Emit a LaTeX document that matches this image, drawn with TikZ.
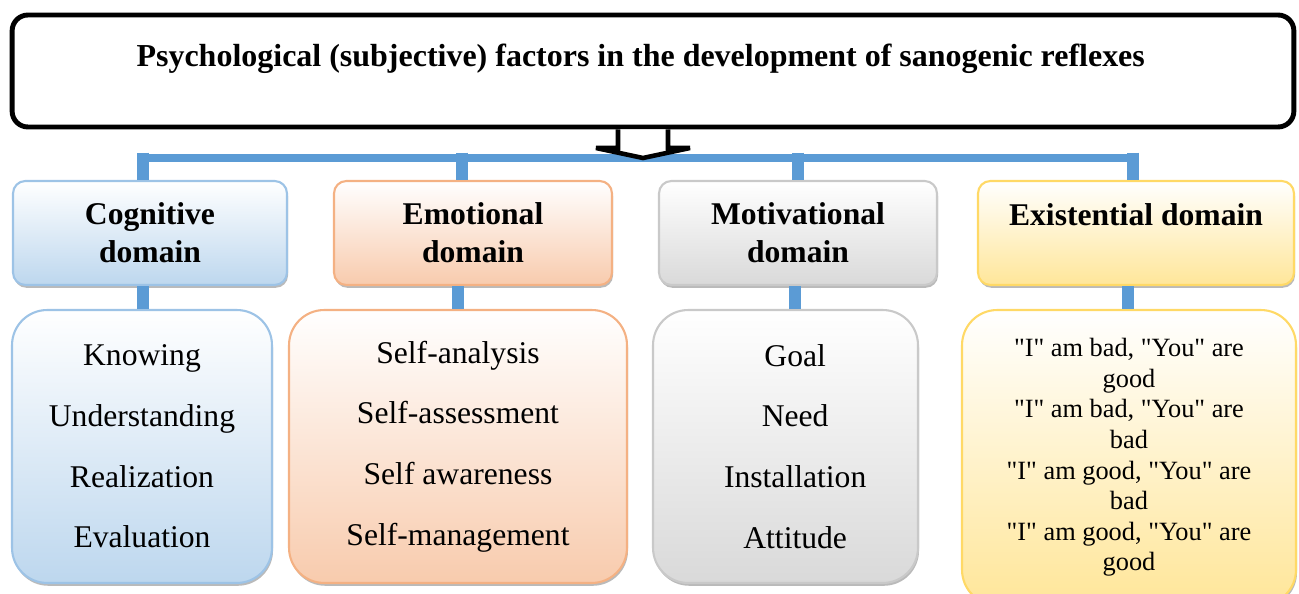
\documentclass[tikz,border=0pt]{standalone}
\usepackage{fontspec}
\setmainfont{Liberation Serif}
\usetikzlibrary{shadows}
\definecolor{busblue}{HTML}{5B9BD5}
\definecolor{cogline}{HTML}{9DC3E6}
\definecolor{cogfill}{HTML}{BDD7EE}
\definecolor{emoline}{HTML}{F4B183}
\definecolor{emofill}{HTML}{F8CBAD}
\definecolor{motline}{HTML}{C9C9C9}
\definecolor{motfill}{HTML}{D9D9D9}
\definecolor{exiline}{HTML}{FFD966}
\definecolor{exifill}{HTML}{FFE699}
\newcommand{\q}{\textquotedbl}

\tikzset{
  domainbox/.style={draw=#1line, line width=1.2pt, rounded corners=7pt,
    top color=white, bottom color=#1fill, align=center, inner sep=0pt,
    minimum height=2.08cm, font=\bfseries\fontsize{18}{21.5}\selectfont,
    drop shadow={shadow xshift=0.6pt, shadow yshift=-1.6pt, fill=black!45, opacity=.6}},
  listbox/.style={draw=#1line, line width=1.2pt, rounded corners=20pt,
    top color=white, bottom color=#1fill, align=center, inner sep=0pt,
    minimum height=5.46cm, font=\fontsize{18}{34.6}\selectfont,
    drop shadow={shadow xshift=0.6pt, shadow yshift=-1.6pt, fill=black!45, opacity=.6}},
  stub/.style={busblue, line width=6.5pt},
  bus/.style={busblue, line width=4.3pt}
}

\begin{document}
\begin{tikzpicture}[x=0.02cm, y=-0.02cm]
        \useasboundingbox (0,0) rectangle (1299,594);
        % Title
        \node[draw, line width=2.8pt, rounded corners=9pt, minimum width=25.64cm, minimum height=2.24cm,
              align=center, font=\bfseries\fontsize{18.2}{18}\selectfont] (T) at (653,71)
              {\hspace*{-14pt}Psychological (subjective) factors in the development of sanogenic reflexes\\ \mbox{}};
        % Bus
        \coordinate (B1) at (143,158);
        \coordinate (B2) at (462,158);
        \coordinate (B3) at (798,158);
        \coordinate (B4) at (1133,158);
        \draw[bus] ([xshift=-3.25pt]B1) -- ([xshift=3.25pt]B4);
        % Arrow from title
        \draw[line width=2.6pt, fill=white, line join=miter, miter limit=1.5]
              (T.south -| 618,0) -- (618,148) -- (596,148) -- (643,158) -- (690,148) -- (668,148) -- (T.south -| 668,0);
        % Domains
        \node[domainbox=cog, minimum width=5.48cm] (C) at (150,233) {Cognitive\\domain};
        \node[domainbox=emo, minimum width=5.56cm] (E) at (473,233) {Emotional\\domain};
        \node[domainbox=mot, minimum width=5.56cm] (M) at (798,233) {Motivational\\domain};
        \node[domainbox=exi, minimum width=6.32cm] (X) at (1136,233) {Existential domain\\ \mbox{}};
        % Lists
        \node[listbox=cog, minimum width=5.2cm] (CL) at (142,446.5)
              {Knowing\\Understanding\\Realization\\Evaluation};
        \node[listbox=emo, minimum width=6.76cm] (EL) at (458,446.5)
              {Self-analysis\\Self-assessment\\Self awareness\\Self-management};
        \node[listbox=mot, minimum width=5.3cm] (ML) at (785.5,446.5)
              {\hspace*{11pt}Goal\\\hspace*{11pt}Need\\\hspace*{11pt}Installation\\\hspace*{11pt}Attitude};
        \node[listbox=exi, minimum width=6.68cm, minimum height=5.9cm, font=\fontsize{15}{17.4}\selectfont] (XL) at (1129,457.5)
              {\q I\q{} am bad, \q You\q{} are\\good\\\q I\q{} am bad, \q You\q{} are\\bad\\\q I\q{} am good, \q You\q{} are\\bad\\\q I\q{} am good, \q You\q{} are\\good};
        % Stubs
        \draw[stub] ([yshift=3pt]B1) -- (B1 |- C.north);
        \draw[stub] ([yshift=3pt]B2) -- (B2 |- E.north);
        \draw[stub] ([yshift=3pt]B3) -- (B3 |- M.north);
        \draw[stub] ([yshift=3pt]B4) -- (B4 |- X.north);
        \draw[stub] (C.south -| B1) -- (B1 |- CL.north);
        \draw[stub] (E.south -| 458,0) -- (EL.north);
        \draw[stub] (M.south -| 795,0) -- (ML.north -| 795,0);
        \draw[stub] (X.south -| 1128,0) -- (XL.north -| 1128,0);
    \end{tikzpicture}
\end{document}
